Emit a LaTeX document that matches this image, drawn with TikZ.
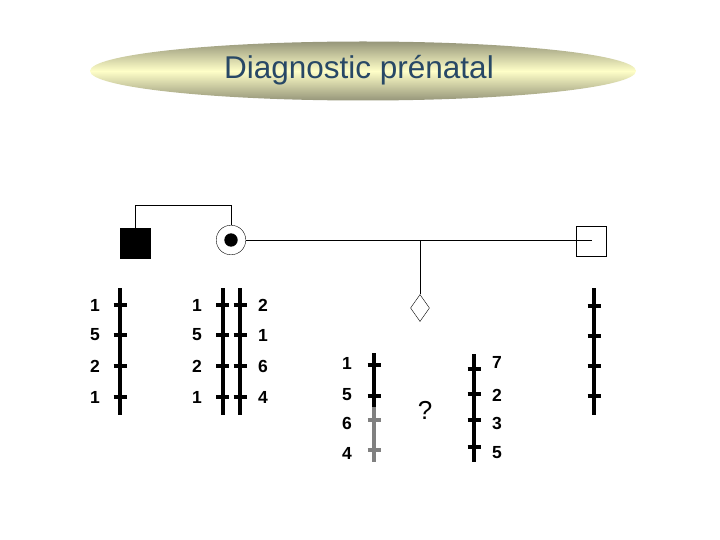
\documentclass[tikz,border=0pt]{standalone}
\usepackage{fontspec}
\setmainfont{Liberation Sans}
\usepackage{xcolor}
\usetikzlibrary{positioning,shapes.geometric}

\definecolor{titleblue}{RGB}{40,72,102}
\definecolor{khaki}{RGB}{150,150,122}
\definecolor{paleyellow}{RGB}{255,255,200}

\begin{document}
\begin{tikzpicture}[
    x=1pt, y=-1pt,
    font=\bfseries\fontsize{17.5}{17.5}\selectfont,
    banner/.style={
        ellipse,
        minimum width=546pt,
        minimum height=59pt,
        inner sep=0pt,
        top color=khaki,
        bottom color=khaki,
        middle color=paleyellow
    },
    male/.style={
        draw=black,
        rectangle,
        minimum size=30pt,
        inner sep=0pt
    },
    female/.style={
        draw=black,
        circle,
        minimum size=29.6pt,
        inner sep=0pt
    },
    fetus/.style={
        draw=black,
        diamond,
        minimum width=19pt,
        minimum height=27pt,
        inner sep=0pt
    },
    chrom/.style={line width=4pt},
    band/.style={line width=3.2pt},
    allele/.style={inner sep=0pt}
]
\useasboundingbox (0,0) rectangle (720,540);

% title
\node[banner] (banner) at (363,71) {};
\node[font=\fontsize{31.5}{31.5}\selectfont, text=titleblue] (title) at (359,70) {Diagnostic prénatal};

% parents and partner
\node[male, fill=black] (father) at (135.5,243) {};
\node[female] (mother) at (231,240) {};
\node[circle, fill=black, minimum size=13.4pt, inner sep=0pt] (dot) at (mother.center) {};
\node[male] (partner) at (591.5,241) {};
\node[fetus] (foetus) at (420,308) {};

\draw (father.north) -- ++(0,-22.5) -| (mother.north);
\draw (mother.east) -- (mother.east -| partner.center);
\draw (foetus.north) -- (foetus.north |- mother.east);

% father haplotypes
\draw[chrom] (120,288) -- (120,415);
\foreach \y/\a in {305/1,335/5,366/2,397/1} {
    \draw[band] (113.5,\y) -- (126.5,\y);
    \node[allele] at (95,\y) {\a};
}

% mother haplotypes
\draw[chrom] (222.7,288) -- (222.7,415);
\draw[chrom] (240,288) -- (240,415);
\foreach \y/\a/\b in {305/1/2,335/5/1,366/2/6,397/1/4} {
    \draw[band] (216.2,\y) -- (229.2,\y);
    \draw[band] (233.5,\y) -- (246.5,\y);
    \node[allele] at (197,\y) {\a};
    \node[allele] at (263,\y) {\b};
}

% fetal haplotypes
\draw[chrom] (374,353) -- (374,407);
\draw[chrom, gray] (374,407) -- (374,462);
\draw[band] (367.5,365) -- (380.5,365);
\draw[band] (367.5,396) -- (380.5,396);
\draw[band, gray] (367.5,420) -- (380.5,420);
\draw[band, gray] (367.5,450) -- (380.5,450);
\foreach \y/\a in {363/1,395/5,423/6,453/4}
    \node[allele] at (347,\y) {\a};

\node[font=\fontsize{26}{26}\selectfont\mdseries] (unknown) at (425,410) {?};

\draw[chrom] (474,354) -- (474,462);
\foreach \y in {369,394,420,447}
    \draw[band] (467.5,\y) -- (480.5,\y);
\foreach \y/\a in {362/7,395/2,423/3,453/5}
    \node[allele] at (497,\y) {\a};

% partner haplotype
\draw[chrom] (594,288) -- (594,415);
\foreach \y in {306,336,366,396}
    \draw[band] (587.5,\y) -- (600.5,\y);

\end{tikzpicture}
\end{document}
